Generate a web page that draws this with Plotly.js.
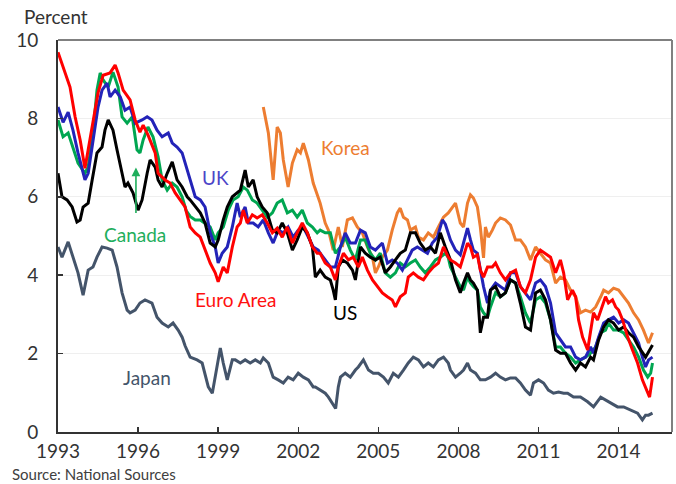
<!DOCTYPE html>
<html>
<head>
<meta charset="utf-8">
<script src="https://cdn.plot.ly/plotly-3.0.1.min.js"></script>
<style>html,body{margin:0;padding:0;background:#fff;}#chart{width:676px;height:484px;}</style>
</head>
<body>
<div id="chart"></div>
<script>
// Decimal years and yields (percent)
const euroYears = [1993.00,1993.26,1993.45,1993.64,1993.83,1994.01,1994.13,1994.31,1994.50,1994.69,1994.95,1995.14,1995.25,1995.44,1995.70,1995.89,1996.07,1996.19,1996.37,1996.64,1996.75,1997.01,1997.20,1997.39,1997.65,1997.76,1997.95,1998.14,1998.33,1998.51,1998.70,1998.89,1999.00,1999.19,1999.34,1999.53,1999.71,1999.83,1999.94,2000.09,2000.28,2000.46,2000.65,2000.84,2001.03,2001.21,2001.40,2001.59,2001.78,2001.96,2002.15,2002.34,2002.53,2002.71,2002.82,2003.01,2003.20,2003.39,2003.50,2003.69,2003.88,2004.06,2004.25,2004.40,2004.59,2004.78,2004.96,2005.15,2005.34,2005.52,2005.64,2005.82,2006.01,2006.12,2006.31,2006.50,2006.69,2006.87,2007.06,2007.25,2007.44,2007.62,2007.70,2007.89,2008.07,2008.19,2008.34,2008.45,2008.56,2008.71,2008.82,2008.94,2009.09,2009.27,2009.39,2009.57,2009.76,2009.95,2010.14,2010.32,2010.51,2010.70,2010.89,2011.07,2011.26,2011.45,2011.64,2011.82,2011.94,2012.09,2012.27,2012.39,2012.50,2012.65,2012.84,2012.95,2013.06,2013.21,2013.33,2013.51,2013.62,2013.77,2013.89,2014.00,2014.15,2014.34,2014.52,2014.71,2014.89,2015.09,2015.16,2015.27];
const euroVals = [9.69,9.18,8.80,8.04,7.45,6.73,7.20,7.96,8.65,9.10,9.16,9.36,9.16,8.72,8.47,7.96,7.65,7.83,7.58,7.12,6.60,6.43,6.35,6.10,5.84,5.74,5.23,5.08,4.97,4.64,4.31,4.06,3.83,4.21,4.06,4.72,5.23,5.33,5.66,5.33,5.54,5.46,5.54,5.33,5.08,5.20,4.97,5.23,4.82,5.08,5.33,5.08,4.72,4.56,4.56,4.31,4.21,3.88,4.21,4.56,4.39,4.46,4.21,4.46,4.13,3.88,3.71,3.55,3.45,3.37,3.19,3.45,3.55,3.95,4.06,3.95,3.88,4.06,4.21,4.31,4.72,4.46,4.39,4.31,4.21,4.46,4.82,4.72,4.46,4.52,4.13,3.95,4.21,4.21,4.31,4.06,3.88,4.06,4.13,3.71,3.55,3.88,4.46,4.64,4.56,4.46,4.06,4.39,4.06,3.37,3.62,3.45,2.86,2.42,2.09,2.60,3.04,2.86,3.11,3.45,3.29,3.37,3.19,3.11,2.86,2.42,2.09,1.76,1.33,0.99,0.89,1.40];

const ukYears = [1993.00,1993.19,1993.38,1993.56,1993.75,1994.01,1994.13,1994.31,1994.50,1994.65,1994.84,1994.95,1995.14,1995.33,1995.51,1995.70,1995.89,1996.15,1996.34,1996.52,1996.71,1996.90,1997.13,1997.28,1997.46,1997.65,1997.84,1997.95,1998.14,1998.33,1998.51,1998.70,1998.89,1999.00,1999.15,1999.34,1999.53,1999.71,1999.83,2000.01,2000.13,2000.31,2000.50,2000.69,2000.88,2001.06,2001.25,2001.44,2001.62,2001.81,2002.00,2002.19,2002.38,2002.56,2002.75,2002.82,2003.01,2003.20,2003.39,2003.58,2003.76,2003.95,2004.14,2004.33,2004.51,2004.70,2004.89,2005.15,2005.34,2005.52,2005.71,2005.90,2006.09,2006.27,2006.46,2006.65,2006.84,2007.02,2007.21,2007.40,2007.51,2007.70,2007.89,2008.07,2008.19,2008.34,2008.45,2008.56,2008.71,2008.82,2008.94,2009.09,2009.20,2009.39,2009.57,2009.76,2009.95,2010.14,2010.32,2010.51,2010.70,2010.89,2011.07,2011.26,2011.45,2011.64,2011.82,2012.01,2012.20,2012.39,2012.57,2012.76,2012.95,2013.06,2013.25,2013.44,2013.62,2013.81,2014.00,2014.19,2014.37,2014.56,2014.75,2014.89,2015.01,2015.12,2015.27];
const ukVals = [8.29,7.90,8.16,7.70,7.12,6.43,6.60,7.45,8.29,8.72,8.90,8.55,8.72,8.55,8.21,8.29,7.88,7.96,8.04,7.96,7.70,7.53,7.63,7.37,7.27,7.12,6.68,6.40,6.00,5.92,5.74,5.08,4.72,4.31,4.56,4.72,5.23,5.84,5.48,5.74,5.33,5.33,5.23,5.41,5.08,4.82,5.15,5.08,5.23,4.97,5.15,5.23,4.97,4.72,4.64,4.56,4.39,4.21,4.21,4.72,5.08,4.82,4.82,5.15,5.08,4.72,4.64,4.82,4.31,4.39,4.31,4.13,4.39,4.64,4.72,4.64,4.56,4.82,4.97,5.41,5.30,4.90,4.64,4.52,4.82,5.20,4.90,4.64,4.56,4.13,3.71,3.29,3.62,3.80,3.71,3.62,4.06,4.06,3.71,3.55,3.37,3.80,3.88,3.71,3.29,2.53,2.35,2.17,2.17,1.91,1.84,1.91,2.17,2.01,2.42,2.78,2.86,2.93,2.78,2.86,2.78,2.53,2.27,1.91,1.66,1.84,1.91];

const canadaYears = [1993.00,1993.19,1993.38,1993.56,1993.75,1994.01,1994.13,1994.31,1994.46,1994.58,1994.69,1994.88,1995.06,1995.25,1995.40,1995.59,1995.78,1995.96,1996.07,1996.19,1996.37,1996.56,1996.75,1996.90,1997.09,1997.28,1997.46,1997.65,1997.80,1997.95,1998.14,1998.33,1998.51,1998.70,1998.89,1999.00,1999.19,1999.38,1999.56,1999.75,1999.94,2000.09,2000.28,2000.46,2000.65,2000.84,2001.03,2001.21,2001.40,2001.59,2001.78,2001.96,2002.15,2002.34,2002.53,2002.71,2002.82,2003.01,2003.20,2003.39,2003.58,2003.76,2003.95,2004.14,2004.33,2004.51,2004.70,2004.89,2005.07,2005.26,2005.45,2005.64,2005.82,2006.01,2006.20,2006.39,2006.57,2006.76,2006.95,2007.14,2007.32,2007.51,2007.62,2007.70,2007.89,2008.07,2008.19,2008.34,2008.45,2008.56,2008.71,2008.82,2008.94,2009.09,2009.20,2009.39,2009.57,2009.76,2009.95,2010.14,2010.32,2010.51,2010.70,2010.89,2011.07,2011.26,2011.45,2011.64,2011.82,2012.01,2012.20,2012.39,2012.57,2012.76,2012.95,2013.14,2013.33,2013.51,2013.62,2013.81,2014.00,2014.19,2014.37,2014.56,2014.75,2014.93,2015.09,2015.20,2015.27];
const canadaVals = [7.96,7.53,7.63,7.27,6.86,6.60,6.76,7.63,8.72,9.16,8.98,8.80,9.18,8.80,8.04,7.88,8.04,7.20,7.12,7.45,7.78,7.53,7.02,6.43,6.17,6.35,6.25,6.00,5.65,5.50,5.41,5.41,5.33,5.23,4.90,5.08,5.23,5.66,5.92,6.00,6.25,6.17,5.92,5.84,5.66,5.48,5.59,5.84,5.92,5.59,5.66,5.48,5.66,5.33,5.23,5.08,5.15,5.08,5.08,4.56,4.72,4.97,4.64,4.39,4.90,4.90,4.56,4.39,4.56,4.06,3.95,4.06,4.31,4.21,4.31,4.39,4.21,4.06,4.21,4.39,4.46,4.56,4.45,4.21,3.95,3.71,3.62,3.95,3.80,3.71,3.62,3.19,3.04,2.93,3.19,3.55,3.45,3.55,3.88,3.80,3.45,3.04,2.78,3.37,3.45,3.29,2.86,2.17,2.17,2.01,1.91,1.76,1.84,1.91,2.01,2.17,2.53,2.60,2.78,2.60,2.60,2.53,2.35,2.17,1.91,1.58,1.40,1.50,1.76];

const usYears = [1993.00,1993.15,1993.34,1993.53,1993.71,1993.83,1993.94,1994.13,1994.28,1994.46,1994.65,1994.76,1994.88,1995.06,1995.21,1995.40,1995.51,1995.62,1995.81,1996.00,1996.15,1996.34,1996.45,1996.64,1996.75,1996.90,1997.09,1997.28,1997.46,1997.65,1997.84,1997.95,1998.14,1998.33,1998.51,1998.70,1998.89,1999.00,1999.19,1999.34,1999.53,1999.71,1999.83,2000.01,2000.13,2000.31,2000.46,2000.65,2000.84,2001.03,2001.21,2001.40,2001.59,2001.78,2001.96,2002.15,2002.34,2002.53,2002.64,2002.75,2002.82,2003.01,2003.20,2003.31,2003.39,2003.50,2003.65,2003.84,2004.03,2004.14,2004.33,2004.51,2004.70,2004.89,2005.07,2005.26,2005.45,2005.64,2005.82,2006.01,2006.20,2006.39,2006.57,2006.76,2006.95,2007.14,2007.32,2007.51,2007.70,2007.89,2008.07,2008.19,2008.34,2008.45,2008.56,2008.71,2008.82,2008.94,2009.09,2009.20,2009.39,2009.57,2009.76,2009.95,2010.14,2010.32,2010.51,2010.70,2010.89,2011.07,2011.26,2011.45,2011.64,2011.82,2012.01,2012.20,2012.39,2012.57,2012.76,2012.95,2013.06,2013.25,2013.44,2013.62,2013.81,2014.00,2014.19,2014.37,2014.56,2014.75,2014.89,2015.01,2015.12,2015.27];
const usVals = [6.60,6.00,5.92,5.74,5.36,5.41,5.74,5.84,6.43,7.12,7.27,7.70,7.96,7.70,7.20,6.60,6.25,6.35,6.10,5.66,5.92,6.60,6.94,6.76,6.43,6.25,6.60,6.89,6.43,6.25,6.00,5.92,5.74,5.59,5.33,4.82,4.72,4.90,5.41,5.74,6.00,6.10,6.17,6.68,6.25,6.43,6.00,5.74,5.59,5.15,5.08,5.33,5.08,4.64,4.90,5.23,5.08,4.72,3.95,4.06,4.13,3.95,3.88,3.62,3.37,4.21,4.39,4.31,4.13,3.88,4.72,4.56,4.46,4.39,4.46,4.06,4.21,4.39,4.56,4.64,5.08,5.08,4.82,4.64,4.72,4.56,5.08,4.72,4.39,3.88,3.55,3.80,4.06,3.88,3.80,3.62,2.53,2.93,2.93,3.62,3.71,3.45,3.55,3.88,3.80,3.29,2.68,2.60,3.55,3.62,3.37,2.86,2.09,2.01,2.01,1.76,1.58,1.76,1.66,1.91,1.84,2.35,2.68,2.86,2.78,2.60,2.68,2.53,2.42,2.17,2.01,1.91,2.04,2.22];

const japanYears = [1993.00,1993.15,1993.38,1993.56,1993.75,1993.94,1994.13,1994.31,1994.46,1994.65,1994.84,1995.03,1995.21,1995.40,1995.59,1995.70,1995.89,1996.07,1996.26,1996.52,1996.71,1996.90,1997.13,1997.31,1997.50,1997.65,1997.76,1997.95,1998.21,1998.40,1998.51,1998.63,1998.78,1998.96,1999.08,1999.19,1999.34,1999.53,1999.64,1999.83,2000.01,2000.20,2000.39,2000.58,2000.69,2000.88,2001.06,2001.25,2001.44,2001.62,2001.81,2002.00,2002.19,2002.38,2002.56,2002.64,2002.82,2003.01,2003.13,2003.31,2003.40,2003.50,2003.58,2003.76,2003.95,2004.14,2004.25,2004.44,2004.63,2004.81,2005.00,2005.19,2005.37,2005.56,2005.75,2005.94,2006.12,2006.31,2006.50,2006.69,2006.87,2007.06,2007.25,2007.44,2007.62,2007.70,2007.89,2008.07,2008.19,2008.34,2008.45,2008.64,2008.82,2009.01,2009.20,2009.39,2009.57,2009.76,2009.95,2010.14,2010.32,2010.51,2010.70,2010.81,2011.00,2011.19,2011.37,2011.56,2011.75,2011.94,2012.09,2012.31,2012.57,2012.84,2013.06,2013.33,2013.51,2013.70,2013.96,2014.19,2014.45,2014.71,2014.89,2015.01,2015.12,2015.27];
const japanVals = [4.72,4.46,4.85,4.46,4.06,3.49,4.13,4.21,4.46,4.72,4.69,4.64,4.21,3.55,3.11,3.04,3.11,3.29,3.37,3.29,2.93,2.78,2.68,2.78,2.60,2.42,2.20,1.91,1.84,1.76,1.50,1.15,0.99,1.66,2.14,1.76,1.33,1.84,1.84,1.76,1.84,1.76,1.84,1.76,1.89,1.76,1.40,1.33,1.25,1.40,1.33,1.50,1.40,1.33,1.15,1.15,1.07,0.99,0.89,0.70,0.60,1.15,1.40,1.50,1.40,1.58,1.66,1.84,1.58,1.50,1.50,1.40,1.25,1.50,1.40,1.58,1.76,1.91,1.84,1.66,1.76,1.66,1.84,1.91,1.76,1.58,1.40,1.50,1.58,1.76,1.58,1.50,1.33,1.33,1.40,1.50,1.40,1.33,1.38,1.38,1.25,1.07,0.94,1.25,1.33,1.25,1.07,0.99,1.02,0.99,0.99,0.89,0.89,0.77,0.64,0.89,0.82,0.74,0.64,0.64,0.56,0.48,0.31,0.43,0.43,0.48];

const koreaYears = [2000.69,2000.88,2001.06,2001.21,2001.33,2001.44,2001.62,2001.78,2001.96,2002.08,2002.19,2002.38,2002.56,2002.75,2002.82,2003.01,2003.13,2003.31,2003.50,2003.65,2003.84,2004.03,2004.21,2004.40,2004.59,2004.78,2004.89,2005.00,2005.15,2005.34,2005.52,2005.71,2005.82,2005.94,2006.09,2006.20,2006.39,2006.50,2006.69,2006.87,2007.06,2007.25,2007.44,2007.62,2007.70,2007.89,2008.07,2008.19,2008.34,2008.45,2008.56,2008.71,2008.82,2008.94,2009.01,2009.12,2009.27,2009.39,2009.57,2009.76,2009.95,2010.14,2010.32,2010.51,2010.70,2010.89,2011.07,2011.26,2011.45,2011.64,2011.82,2012.01,2012.20,2012.39,2012.57,2012.76,2012.95,2013.14,2013.33,2013.44,2013.62,2013.81,2014.00,2014.19,2014.37,2014.56,2014.75,2014.93,2015.12,2015.27];
const koreaVals = [8.29,7.63,6.43,7.78,7.63,6.94,6.25,6.86,7.20,7.12,7.37,6.94,6.35,5.95,5.84,5.33,5.15,4.64,5.23,4.72,5.41,5.46,5.23,5.08,4.72,4.46,4.06,4.21,4.46,4.64,5.15,5.59,5.71,5.48,5.41,5.15,5.23,4.97,4.90,5.08,4.97,5.23,5.48,5.59,5.66,5.84,5.33,5.23,5.84,6.05,5.97,5.74,5.23,4.44,5.23,4.97,5.15,5.33,5.46,5.41,5.28,4.90,4.90,4.72,4.39,4.72,4.56,4.39,4.31,3.80,3.95,3.88,3.62,3.45,3.04,3.11,3.06,3.19,3.45,3.62,3.55,3.67,3.62,3.45,3.29,3.04,2.86,2.60,2.27,2.53];

const xTickVals = [1993,1996,1999,2002,2005,2008,2011,2014];
const xTickText = ['1993','1996','1999','2002','2005','2008','2011','2014'];
const yTickVals = [0,2,4,6,8,10];
const yTickText = ['0','2','4','6','8','10'];

const FONT = 'Lato, "Open Sans", sans-serif';
function line(x, y, name, color) {
  return {x: x, y: y, name: name, type: 'scatter', mode: 'lines',
    line: {color: color, width: 3}, hoverinfo: 'skip'};
}
const traces = [
  line(japanYears, japanVals, 'Japan', '#44546a'),
  line(koreaYears, koreaVals, 'Korea', '#ed7d31'),
  line(canadaYears, canadaVals, 'Canada', '#00a651'),
  line(ukYears, ukVals, 'UK', '#2323b8'),
  line(usYears, usVals, 'US', '#000000'),
  line(euroYears, euroVals, 'Euro Area', '#ff0000')
];

function lab(text, x, y, color) {
  return {text: text, x: x, y: y, xref: 'x', yref: 'y', showarrow: false,
    font: {family: FONT, size: 19, color: color}};
}
const annotations = [
  lab('Korea', 2003.76, 7.27, '#ed7d31'),
  lab('UK', 1998.89, 6.48, '#4b45c8'),
  lab('Canada', 1995.89, 5.03, '#1fae5c'),
  lab('Euro Area', 1999.68, 3.39, '#ff1010'),
  lab('US', 2003.76, 3.04, '#000000'),
  lab('Japan', 1996.34, 1.38, '#44546a'),
  {x: 1995.92, y: 6.75, ax: 1995.92, ay: 5.55, xref: 'x', yref: 'y', axref: 'x', ayref: 'y',
    text: '', showarrow: true, arrowhead: 2, arrowsize: 1.1, arrowwidth: 1.6, arrowcolor: '#1fae5c'},
  {text: 'Percent', xref: 'paper', yref: 'paper', x: -0.059, y: 1.061,
    xanchor: 'left', yanchor: 'middle', showarrow: false, font: {family: FONT, size: 19, color: '#333'}},
  {text: 'Source: National Sources', xref: 'paper', yref: 'paper', x: -0.078, y: -0.107,
    xanchor: 'left', yanchor: 'middle', showarrow: false, font: {family: FONT, size: 15, color: '#404040'}}
];

const layout = {
  width: 676, height: 484,
  margin: {l: 58, r: 4, t: 40, b: 52},
  paper_bgcolor: '#ffffff', plot_bgcolor: '#ffffff',
  showlegend: false,
  font: {family: FONT, color: '#333'},
  xaxis: {
    range: [1993, 2016], tickvals: xTickVals, ticktext: xTickText,
    ticks: 'inside', ticklen: 5, tickwidth: 1.5, tickcolor: '#333',
    showline: true, linecolor: '#333', linewidth: 2, showgrid: false, zeroline: false,
    tickfont: {family: FONT, size: 19, color: '#333'}, ticklabelstandoff: 1
  },
  yaxis: {
    range: [0, 10], tickvals: yTickVals, ticktext: yTickText,
    ticks: 'inside', ticklen: 5, tickwidth: 1.5, tickcolor: '#333',
    showline: true, linecolor: '#333', linewidth: 2, showgrid: true, gridcolor: '#efefef', gridwidth: 1,
    zeroline: false, tickfont: {family: FONT, size: 19, color: '#333'}, ticklabelstandoff: 14
  },
  shapes: [
    {type: 'line', xref: 'paper', yref: 'paper', x0: 0, x1: 1, y0: 1, y1: 1, line: {color: '#808080', width: 2}},
    {type: 'line', xref: 'paper', yref: 'paper', x0: 1, x1: 1, y0: 0, y1: 1, line: {color: '#808080', width: 2}}
  ],
  annotations: annotations
};
Plotly.newPlot('chart', traces, layout, {displayModeBar: false, staticPlot: true});
</script>
</body>
</html>
